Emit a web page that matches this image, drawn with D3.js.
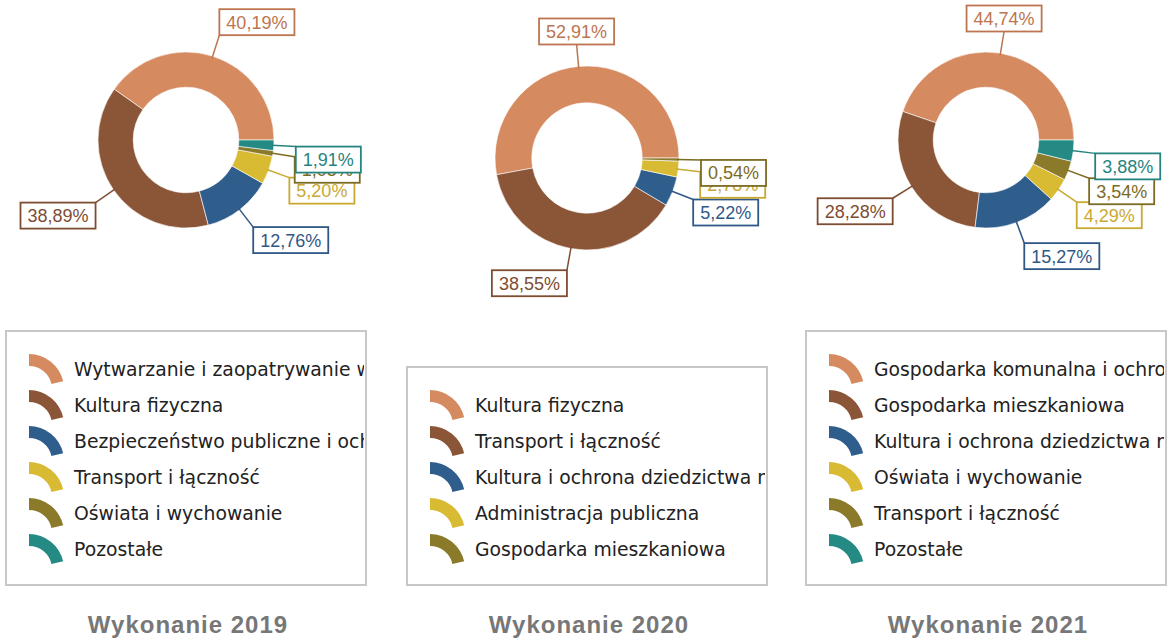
<!DOCTYPE html>
<html>
<head>
<meta charset="utf-8">
<script src="https://cdn.jsdelivr.net/npm/d3@7"></script>
<style>
  html, body { margin: 0; padding: 0; background: #fff; }
  svg { display: block; }
</style>
</head>
<body>
<svg id="chart" width="1169" height="639"></svg>
<script>
// Shares of spending by section, three years
const titles = ["Wykonanie 2019", "Wykonanie 2020", "Wykonanie 2021"];

const categories2019 = [
  "Wytwarzanie i zaopatrywanie w energię elektryczną, gaz i wodę",
  "Kultura fizyczna",
  "Bezpieczeństwo publiczne i ochrona przeciwpożarowa",
  "Transport i łączność",
  "Oświata i wychowanie",
  "Pozostałe"
];
const values2019 = [40.19, 38.89, 12.76, 5.20, 1.05, 1.91];

const categories2020 = [
  "Kultura fizyczna",
  "Transport i łączność",
  "Kultura i ochrona dziedzictwa narodowego",
  "Administracja publiczna",
  "Gospodarka mieszkaniowa"
];
const values2020 = [52.91, 38.55, 5.22, 2.78, 0.54];

const categories2021 = [
  "Gospodarka komunalna i ochrona środowiska",
  "Gospodarka mieszkaniowa",
  "Kultura i ochrona dziedzictwa narodowego",
  "Oświata i wychowanie",
  "Transport i łączność",
  "Pozostałe"
];
const values2021 = [44.74, 28.28, 15.27, 4.29, 3.54, 3.88];

const sliceColors = ["#D68A60", "#8B5637", "#2F5E8C", "#D8BA33", "#8A7A2A", "#268A84"];
const labelColors = ["#BC7550", "#7E4D31", "#2F5887", "#C9A934", "#7C6B22", "#268480"];

const charts = [
  { title: titles[0], cats: categories2019, vals: values2019, cx: 186, cy: 140, R: 88 },
  { title: titles[1], cats: categories2020, vals: values2020, cx: 587, cy: 158, R: 92 },
  { title: titles[2], cats: categories2021, vals: values2021, cx: 986, cy: 140, R: 88 }
];

const svg = d3.select("#chart");
const fmt = v => d3.format(".2f")(v).replace(".", ",") + "%";

// slices run counter-clockwise from three o'clock
const pie = d3.pie()
  .sort(null)
  .value(d => d)
  .startAngle(Math.PI / 2)
  .endAngle(Math.PI / 2 - 2 * Math.PI);

const legendBottom = 585, rowH = 36, legendW = 360;

charts.forEach((c, ci) => {
  const color = d3.scaleOrdinal().domain(d3.range(c.vals.length)).range(sliceColors);
  const lcolor = d3.scaleOrdinal().domain(d3.range(c.vals.length)).range(labelColors);
  const inner = c.R * 0.6;
  const arc = d3.arc().innerRadius(inner).outerRadius(c.R);
  const arcs = pie(c.vals);

  const g = svg.append("g").attr("transform", `translate(${c.cx},${c.cy})`);
  g.selectAll("path.slice")
    .data(arcs)
    .join("path")
    .attr("class", "slice")
    .attr("d", arc)
    .attr("fill", (d, i) => color(i))
    .attr("stroke", "#fff")
    .attr("stroke-width", 0.6);

  // callout labels
  const labR = c.R + 22;
  arcs.forEach((d, i) => {
    const mid = (d.startAngle + d.endAngle) / 2;
    const sx = Math.sin(mid), sy = -Math.cos(mid);
    const p0 = [sx * (c.R - 2), sy * (c.R - 2)];
    const p1 = [sx * labR, sy * labR];
    const lg = g.append("g");
    lg.append("line")
      .attr("x1", p0[0]).attr("y1", p0[1])
      .attr("x2", p1[0]).attr("y2", p1[1])
      .attr("stroke", lcolor(i)).attr("stroke-width", 1.5);
    const box = lg.append("rect");
    const txt = lg.append("text")
      .attr("font-family", "'Liberation Sans', Arial, sans-serif")
      .attr("font-size", 18)
      .attr("fill", lcolor(i))
      .text(fmt(c.vals[i]));
    const tw = txt.node().getComputedTextLength();
    const bw = tw + 14, bh = 26;
    let bx;
    if (Math.abs(sx) < 0.17) bx = p1[0] - bw / 2;
    else if (sx > 0) bx = p1[0];
    else bx = p1[0] - bw;
    const by = sy < 0 ? p1[1] - bh : p1[1];
    box.attr("x", bx).attr("y", by).attr("width", bw).attr("height", bh)
      .attr("fill", "#fff").attr("stroke", lcolor(i)).attr("stroke-width", 1.8);
    txt.attr("x", bx + 7).attr("y", by + bh / 2 + 6.5);
  });

  // legend
  const n = c.cats.length;
  const lx = c.cx - 180;
  const lh = n * rowH + 38;
  const ly = legendBottom - lh;
  const clipId = "legclip" + ci;
  svg.append("clipPath").attr("id", clipId)
    .append("rect").attr("x", lx).attr("y", ly).attr("width", legendW - 2).attr("height", lh);
  const leg = svg.append("g");
  leg.append("rect")
    .attr("x", lx).attr("y", ly).attr("width", legendW).attr("height", lh)
    .attr("fill", "#fff").attr("stroke", "#c8c8c8").attr("stroke-width", 2);
  const items = leg.append("g").attr("clip-path", `url(#${clipId})`);
  const icon = d3.arc().innerRadius(23).outerRadius(35).startAngle(0).endAngle(1.35);
  c.cats.forEach((name, i) => {
    const base = ly + 45 + i * rowH;
    items.append("path")
      .attr("d", icon())
      .attr("transform", `translate(${lx + 23},${base + 13})`)
      .attr("fill", color(i));
    items.append("text")
      .attr("x", lx + 68).attr("y", base)
      .attr("font-family", "'DejaVu Sans', Verdana, sans-serif")
      .attr("font-size", 18.8)
      .attr("fill", "#222")
      .text(name);
  });

  // title
  svg.append("text")
    .attr("x", c.cx + 2).attr("y", 633)
    .attr("text-anchor", "middle")
    .attr("font-family", "'Liberation Sans', Arial, sans-serif")
    .attr("font-weight", "bold")
    .attr("font-size", 24)
    .attr("letter-spacing", 1)
    .attr("fill", "#777")
    .text(c.title);
});
</script>
</body>
</html>
